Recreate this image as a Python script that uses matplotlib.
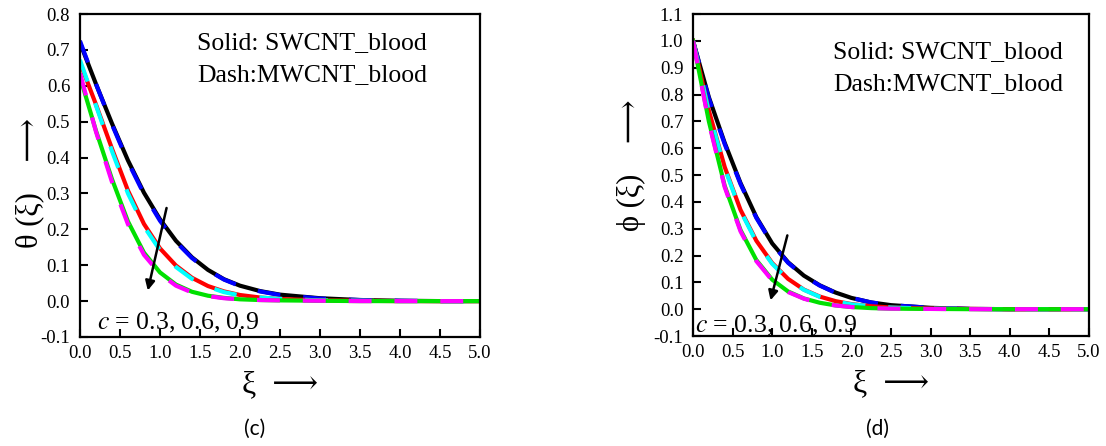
"""Perfis de temperatura e concentração para SWCNT/MWCNT em sangue."""

import matplotlib
matplotlib.use("Agg")
import matplotlib.pyplot as plt

plt.rcParams["font.family"] = ["Liberation Serif", "DejaVu Serif"]
plt.rcParams["mathtext.fontset"] = "stix"

xi = [0.0, 0.2, 0.4, 0.6, 0.8, 1.0, 1.2, 1.4, 1.6, 1.8, 2.0, 2.25, 2.5,
      3.0, 3.5, 4.0, 4.5, 5.0]

# theta(xi): c = 0.3, 0.6, 0.9
theta_swcnt = [
    [0.720, 0.605, 0.495, 0.392, 0.302, 0.228, 0.168, 0.122, 0.087, 0.061,
     0.043, 0.028, 0.018, 0.008, 0.003, 0.001, 0.0, 0.0],
    [0.665, 0.548, 0.425, 0.308, 0.215, 0.147, 0.099, 0.065, 0.042, 0.027,
     0.017, 0.010, 0.006, 0.002, 0.001, 0.0, 0.0, 0.0],
    [0.625, 0.475, 0.340, 0.222, 0.135, 0.080, 0.046, 0.026, 0.015, 0.009,
     0.005, 0.003, 0.002, 0.001, 0.0, 0.0, 0.0, 0.0],
]
theta_mwcnt = [
    [0.725, 0.605, 0.492, 0.388, 0.298, 0.224, 0.165, 0.120, 0.086, 0.060,
     0.042, 0.027, 0.017, 0.007, 0.003, 0.001, 0.0, 0.0],
    [0.672, 0.545, 0.418, 0.300, 0.208, 0.142, 0.095, 0.062, 0.040, 0.025,
     0.016, 0.010, 0.006, 0.002, 0.001, 0.0, 0.0, 0.0],
    [0.635, 0.472, 0.332, 0.214, 0.129, 0.076, 0.043, 0.024, 0.014, 0.008,
     0.005, 0.003, 0.002, 0.001, 0.0, 0.0, 0.0, 0.0],
]

# phi(xi): c = 0.3, 0.6, 0.9
phi_swcnt = [
    [1.0, 0.790, 0.620, 0.470, 0.343, 0.245, 0.175, 0.125, 0.089, 0.062,
     0.042, 0.025, 0.015, 0.005, 0.001, 0.0, 0.0, 0.0],
    [1.0, 0.740, 0.530, 0.370, 0.255, 0.172, 0.113, 0.073, 0.047, 0.030,
     0.019, 0.011, 0.006, 0.002, 0.001, 0.0, 0.0, 0.0],
    [1.0, 0.700, 0.460, 0.295, 0.183, 0.110, 0.066, 0.040, 0.024, 0.014,
     0.008, 0.004, 0.002, 0.001, 0.0, 0.0, 0.0, 0.0],
]
phi_mwcnt = [
    [1.0, 0.785, 0.615, 0.466, 0.340, 0.243, 0.173, 0.124, 0.088, 0.061,
     0.042, 0.025, 0.015, 0.005, 0.001, 0.0, 0.0, 0.0],
    [1.0, 0.735, 0.525, 0.366, 0.251, 0.169, 0.111, 0.072, 0.046, 0.029,
     0.018, 0.011, 0.006, 0.002, 0.001, 0.0, 0.0, 0.0],
    [1.0, 0.695, 0.455, 0.290, 0.179, 0.107, 0.064, 0.039, 0.023, 0.014,
     0.008, 0.004, 0.002, 0.001, 0.0, 0.0, 0.0, 0.0],
]

solid_colors = ["black", "red", "#00e000"]
dash_colors = ["blue", "cyan", "magenta"]

x_ticks = [0.0, 0.5, 1.0, 1.5, 2.0, 2.5, 3.0, 3.5, 4.0, 4.5, 5.0]


def _draw_panel(ax, sw, mw, ylim, yticks, ylabel, label_xy, arrow_from,
                arrow_to, c_pos, note_pos):
    for y_s, y_m, cs, cm in zip(sw, mw, solid_colors, dash_colors):
        ax.plot(xi, y_s, color=cs, lw=3.0, solid_joinstyle="round")
        ax.plot(xi, y_m, color=cm, lw=3.0, ls=(0, (5.5, 5.5)),
                dash_capstyle="butt")

    ax.set_xlim(0, 5)
    ax.set_ylim(*ylim)
    ax.set_xticks(x_ticks)
    ax.set_xticklabels([f"{t:.1f}" for t in x_ticks])
    ax.set_yticks(yticks)
    ax.set_yticklabels([f"{t:.1f}" for t in yticks])
    ax.tick_params(direction="in", length=6, width=1.5, labelsize=13.5,
                   top=False, right=False)
    ax.tick_params(axis="y", pad=7)
    ax.tick_params(axis="x", pad=6)
    for sp in ax.spines.values():
        sp.set_linewidth(1.6)

    ax.set_xlabel("ξ  ⟶", fontsize=23, labelpad=6)
    ax.set_ylabel(ylabel, fontsize=22)
    ax.yaxis.set_label_coords(*label_xy)

    nx_, ny_ = note_pos
    ax.text(nx_, ny_, "Solid: SWCNT_blood", transform=ax.transAxes,
            fontsize=18.5, va="center")
    ax.text(nx_, ny_ - 0.099, "Dash:MWCNT_blood", transform=ax.transAxes,
            fontsize=18.5, va="center")

    ax.annotate("", xy=arrow_to, xytext=arrow_from,
                arrowprops=dict(arrowstyle="-|>", color="black", lw=1.8,
                                mutation_scale=14))
    ax.text(*c_pos, r"$c$ = 0.3, 0.6, 0.9", fontsize=18.5, va="center")


fig = plt.figure(figsize=(11.06, 4.46), dpi=100)
ax_t = fig.add_axes([0.0723, 0.2444, 0.3617, 0.7242])
ax_p = fig.add_axes([0.6266, 0.2466, 0.3580, 0.7220])

_draw_panel(ax_t, theta_swcnt, theta_mwcnt, (-0.1, 0.8),
            [-0.1, 0.0, 0.1, 0.2, 0.3, 0.4, 0.5, 0.6, 0.7, 0.8],
            "θ (ξ)    ⟶", (-0.09, 0.478),
            (1.09, 0.267), (0.84, 0.022), (0.21, -0.062), (0.293, 0.91))
_draw_panel(ax_p, phi_swcnt, phi_mwcnt, (-0.1, 1.1),
            [-0.1, 0.0, 0.1, 0.2, 0.3, 0.4, 0.5, 0.6, 0.7, 0.8, 0.9, 1.0,
             1.1],
            "ϕ (ξ)    ⟶", (-0.118, 0.53),
            (1.2, 0.285), (0.97, 0.023), (0.03, -0.062), (0.354, 0.882))

fig.text(0.2306, 0.025, "(c)", fontsize=15, family="Lato", ha="center")
fig.text(0.7930, 0.025, "(d)", fontsize=15, family="Lato", ha="center")

fig.savefig("out.png", dpi=100)
